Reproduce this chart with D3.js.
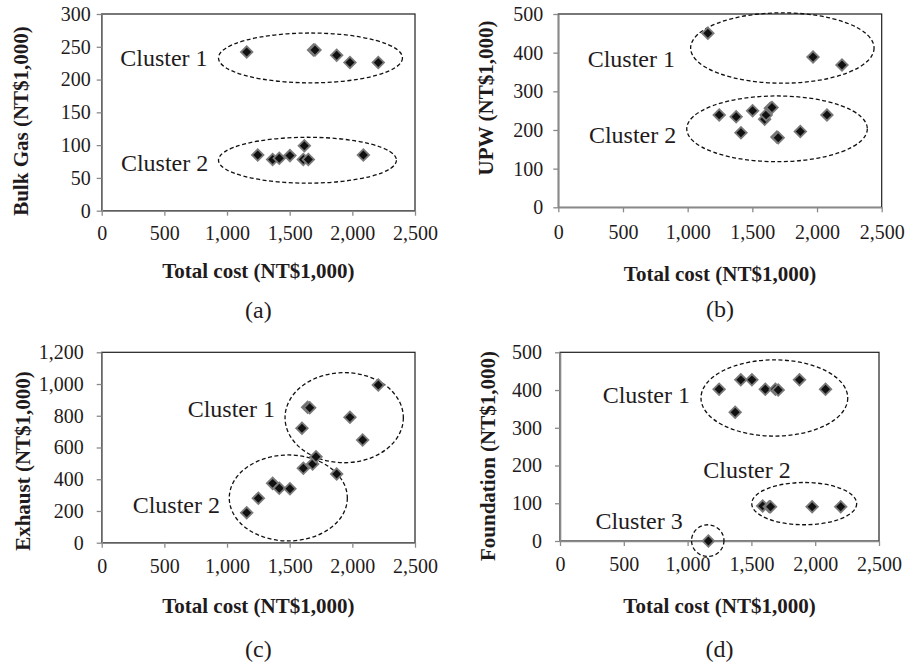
<!DOCTYPE html>
<html>
<head>
<meta charset="utf-8">
<script src="https://cdn.jsdelivr.net/npm/d3@7"></script>
<style>
body { margin: 0; background: #fff; }
svg text { font-family: "Liberation Serif", "Times New Roman", serif; fill: #1f1b1c; }
</style>
</head>
<body>
<svg id="chart" width="905" height="665"></svg>
<script>

//////////////////////////////////////////////////////////////////////////////
// Data (total cost and cost item, NT$1,000)

var xTicks = [0, 500, 1000, 1500, 2000, 2500];

var costA   = [1157, 1245, 1364, 1417, 1502, 1609, 1617, 1649, 1690, 1702, 1875, 1981, 2088, 2207];
var bulkGas = [242, 85, 78, 80, 84, 78, 99, 78, 245, 245, 237, 226, 85, 226];
var gasTicks = [0, 50, 100, 150, 200, 250, 300];

var costB = [1156, 1244, 1375, 1412, 1502, 1595, 1607, 1639, 1652, 1690, 1700, 1871, 1969, 2077, 2193];
var upw   = [450, 239, 234, 193, 250, 228, 239, 256, 258, 182, 180, 196, 389, 239, 368];
var upwTicks = [0, 100, 200, 300, 400, 500];

var costC   = [1157, 1250, 1364, 1417, 1502, 1598, 1609, 1643, 1660, 1683, 1710, 1875, 1981, 2082, 2207];
var exhaust = [189, 280, 374, 343, 340, 721, 469, 853, 850, 496, 542, 433, 790, 647, 994];
var exhaustTicks = [0, 200, 400, 600, 800, 1000, 1200];

var costD      = [1163, 1247, 1373, 1417, 1504, 1588, 1609, 1640, 1650, 1688, 1710, 1877, 1976, 2081, 2200];
var foundation = [0, 402, 341, 427, 427, 93, 402, 91, 91, 402, 400, 427, 91, 402, 91];
var foundationTicks = [0, 100, 200, 300, 400, 500];

// cluster outlines, in data units: centre, half-width, half-height, label anchor
var clustersA = [
    {name: "Cluster 1", cx: 1666, cy: 233, rx: 734, ry: 38, lx: 845, ly: 220},
    {name: "Cluster 2", cx: 1642, cy: 77,  rx: 710, ry: 35, lx: 850, ly: 60}
];
var clustersB = [
    {name: "Cluster 1", cx: 1732, cy: 412, rx: 709, ry: 91, lx: 902, ly: 364},
    {name: "Cluster 2", cx: 1691, cy: 203, rx: 698, ry: 85, lx: 912, ly: 166}
];
var clustersC = [
    {name: "Cluster 1", cx: 1935, cy: 788, rx: 472, ry: 284, lx: 1383, ly: 794},
    {name: "Cluster 2", cx: 1489, cy: 282, rx: 471, ry: 271, lx: 944, ly: 185}
];
var clustersD = [
    {name: "Cluster 1", cx: 1680, cy: 379, rx: 575, ry: 101, lx: 1019, ly: 366},
    {name: "Cluster 2", cx: 1914, cy: 99,  rx: 411, ry: 56,  lx: 1808, ly: 166},
    {name: "Cluster 3", cx: 1158, cy: 1,   rx: 127, ry: 42,  lx: 962,  ly: 31}
];

//////////////////////////////////////////////////////////////////////////////
// Layout of the four panels

var panels = [
    {cap: "(a)", xs: costA, ys: bulkGas, yMax: 300, yTicks: gasTicks, yTitle: "Bulk Gas (NT$1,000)",
     clusters: clustersA, box: [101.7, 415, 14, 210.7], yPad: 6, xPad: 10,
     yTitleX: 28, yTitleY: 121, xTitleY: 278, capY: 318},
    {cap: "(b)", xs: costB, ys: upw, yMax: 500, yTicks: upwTicks, yTitle: "UPW (NT$1,000)",
     clusters: clustersB, box: [558.3, 881.7, 14, 207.3], yPad: 10, xPad: 13,
     yTitleX: 493, yTitleY: 98, xTitleY: 281, capY: 317},
    {cap: "(c)", xs: costC, ys: exhaust, yMax: 1200, yTicks: exhaustTicks, yTitle: "Exhaust (NT$1,000)",
     clusters: clustersC, box: [101.7, 415, 352.3, 542.7], yPad: 13, xPad: 11,
     yTitleX: 30, yTitleY: 461, xTitleY: 613, capY: 657},
    {cap: "(d)", xs: costD, ys: foundation, yMax: 500, yTicks: foundationTicks, yTitle: "Foundation (NT$1,000)",
     clusters: clustersD, box: [560, 879, 352.3, 541], yPad: 13, xPad: 11,
     yTitleX: 495, yTitleY: 456, xTitleY: 613, capY: 657}
];

var svg = d3.select("#chart");
var axisGray = "#8a8a8a";
var fmt = d3.format(",");
var diamond = d3.symbol().type(d3.symbolSquare).size(66);

function styleAxis(sel) {
    sel.attr("font-family", "Liberation Serif, Times New Roman, serif")
       .attr("font-size", 20);
    sel.select(".domain").attr("stroke", axisGray).attr("stroke-width", 1.6);
    sel.selectAll(".tick line").attr("stroke", axisGray).attr("stroke-width", 1.3);
    sel.selectAll(".tick text").attr("fill", "#1f1b1c");
}

function drawPanel(p) {
    var x = d3.scaleLinear().domain([0, 2500]).range([p.box[0], p.box[1]]);
    var y = d3.scaleLinear().domain([0, p.yMax]).range([p.box[3], p.box[2]]);
    var g = svg.append("g");

    // plot area frame (top/right dark, axes drawn over it in gray)
    g.append("rect")
        .attr("x", x(0)).attr("y", y(p.yMax))
        .attr("width", x(2500) - x(0)).attr("height", y(0) - y(p.yMax))
        .attr("fill", "none").attr("stroke", "#1e1e1e").attr("stroke-width", 1.2);

    g.append("g")
        .attr("transform", "translate(0," + y(0) + ")")
        .call(d3.axisBottom(x).tickValues(xTicks).tickFormat(fmt)
              .tickSizeInner(5).tickSizeOuter(0).tickPadding(p.xPad))
        .call(styleAxis);

    g.append("g")
        .attr("transform", "translate(" + x(0) + ",0)")
        .call(d3.axisLeft(y).tickValues(p.yTicks).tickFormat(fmt)
              .tickSizeInner(5).tickSizeOuter(0).tickPadding(p.yPad))
        .call(styleAxis);

    // dashed cluster outlines
    g.selectAll("ellipse")
        .data(p.clusters)
        .join("ellipse")
        .attr("cx", function(d) { return x(d.cx); })
        .attr("cy", function(d) { return y(d.cy); })
        .attr("rx", function(d) { return x(d.rx) - x(0); })
        .attr("ry", function(d) { return y(0) - y(d.ry); })
        .attr("fill", "none")
        .attr("stroke", "#111")
        .attr("stroke-width", 1.3)
        .attr("stroke-dasharray", "4,2.5");

    g.selectAll("text.cluster")
        .data(p.clusters)
        .join("text")
        .attr("class", "cluster")
        .attr("x", function(d) { return x(d.lx); })
        .attr("y", function(d) { return y(d.ly); })
        .attr("text-anchor", "end")
        .attr("font-size", 24)
        .text(function(d) { return d.name; });

    // diamond markers
    g.selectAll("path.pt")
        .data(p.xs.map(function(v, i) { return [v, p.ys[i]]; }))
        .join("path")
        .attr("class", "pt")
        .attr("d", diamond)
        .attr("transform", function(d) {
            return "translate(" + x(d[0]) + "," + y(d[1]) + ") rotate(45)";
        })
        .attr("fill", "#111")
        .attr("stroke", "#7a7a7a")
        .attr("stroke-width", 1.8);

    // titles and caption
    var midX = (x(0) + x(2500)) / 2;
    g.append("text")
        .attr("x", midX).attr("y", p.xTitleY)
        .attr("text-anchor", "middle")
        .attr("font-size", 21).attr("font-weight", "bold")
        .text("Total cost (NT$1,000)");

    g.append("text")
        .attr("transform", "translate(" + p.yTitleX + "," + p.yTitleY + ") rotate(-90)")
        .attr("text-anchor", "middle")
        .attr("font-size", 21).attr("font-weight", "bold")
        .text(p.yTitle);

    g.append("text")
        .attr("x", midX).attr("y", p.capY)
        .attr("text-anchor", "middle")
        .attr("font-size", 24)
        .text(p.cap);
}

panels.forEach(drawPanel);

</script>
</body>
</html>
